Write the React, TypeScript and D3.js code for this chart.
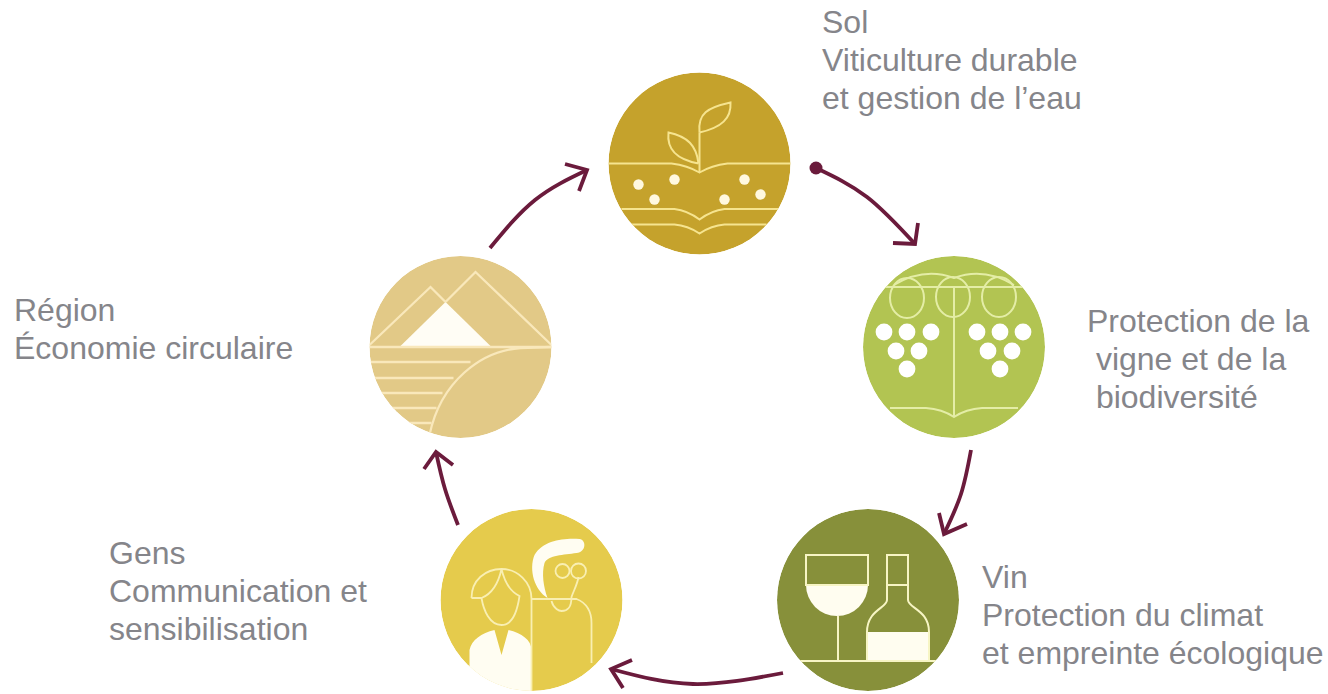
import React, { useEffect, useRef } from 'react';
import * as d3 from 'd3';

const themes = ['Sol', 'Vigne', 'Vin', 'Gens', 'Region'];
const fills = ['#c5a22c', '#b2c452', '#87903a', '#e5cb4c', '#e2c987'];
const strokes = ['#f6e48f', '#e4eda6', '#f7f5c4', '#f9efb2', '#f9e8bb'];
const solids = ['#fff8df', '#ffffff', '#fffdf0', '#fffdf2', '#fffdf5'];

const labelLines = [
	['Sol', 'Viticulture durable', 'et gestion de l’eau'],
	['Protection de la', ' vigne et de la', ' biodiversité'],
	['Vin', 'Protection du climat', 'et empreinte écologique'],
	['Gens', 'Communication et', 'sensibilisation'],
	['Région', 'Économie circulaire'],
];

// layout, in page pixels
const centers = [[699.5, 163.5], [954, 347], [868, 600], [531.5, 600], [460.5, 347]];
const labelPos = [[822, 33], [1087, 332], [982, 588], [109, 564], [14, 321]];
const R = 91;
const LINE_H = 38;

const arrows = [
	{ pts: [[816, 168], [867, 197], [915, 244]], arms: [[918, 223], [893, 243]] },
	{ pts: [[971, 450], [961, 494], [944, 534]], arms: [[939, 513], [967, 524]] },
	{ pts: [[783, 673], [693, 684], [611, 669]], arms: [[632, 660], [623, 688]] },
	{ pts: [[458, 525], [445, 489], [436, 452]], arms: [[424, 469], [453, 465]] },
	{ pts: [[490, 248], [535, 200], [587, 170]], arms: [[565, 164], [579, 191]] },
];

const drawSol = (g, line, solid) => {
	const lines = [
		'M-91,0 L-28,0 Q-12,2 0,9 Q12,2 28,0 L91,0',
		'M-78,45.5 L-25,45.5 Q-12,47 0,56 Q12,47 25,45.5 L79,45.5',
		'M-68,61 L-25,61 Q-12,62 0,70 Q12,62 25,61 L67,61',
		'M0,9 L0,-31',
		'M0,-31 C-2,-50 8,-56 31,-61 C32,-45 22,-36 0,-31',
		'M-1,0 C-3,-18 -12,-27 -31,-31 C-33,-13 -22,-4 -1,0',
	];
	lines.forEach(d => g.append('path').attr('d', d).attr('fill', 'none').attr('stroke', line).attr('stroke-width', 2));
	[[-61, 21], [-45, 36], [-25, 16], [25, 36], [45, 16], [61, 31]].forEach(([x, y]) =>
		g.append('circle').attr('cx', x).attr('cy', y).attr('r', 5.2).attr('fill', solid),
	);
};

const drawVigne = (g, line, solid) => {
	const lines = [
		'M-69,-60 L69,-60',
		'M0,-60 L0,70',
		'M-64,61 L-28,61 Q-12,62 0,70 Q12,62 28,61 L64,61',
		'M-60,-62 Q-30,-80 0,-69 Q30,-80 60,-62',
	];
	lines.forEach(d => g.append('path').attr('d', d).attr('fill', 'none').attr('stroke', line).attr('stroke-width', 2));
	[[-47, -49], [-1, -50], [45, -50]].forEach(([x, y]) =>
		g.append('ellipse').attr('cx', x).attr('cy', y).attr('rx', 17).attr('ry', 20).attr('fill', 'none').attr('stroke', line).attr('stroke-width', 2),
	);
	[[-70, -15], [-47, -15], [-23, -15], [-58, 4], [-35, 4], [-47, 22], [23, -15], [46, -15], [69, -15], [34, 4], [58, 4], [46, 22]].forEach(([x, y]) =>
		g.append('circle').attr('cx', x).attr('cy', y).attr('r', 8.4).attr('fill', solid),
	);
};

const drawVin = (g, line, solid) => {
	g.append('path').attr('d', 'M-62,-15 A31,31 0 0 0 0,-15 Z').attr('fill', solid);
	g.append('rect').attr('x', -1).attr('y', 32).attr('width', 62).attr('height', 29).attr('fill', solid);
	const lines = [
		'M-68,61 L69,61',
		'M-62,-15 L-62,-45 L0,-45 L0,-15 Z',
		'M-30,16 L-30,61',
		'M19,-15 L40,-15',
		'M19,-45 L40,-45 L40,0 C40,8 61,10 61,32 L61,61 L-1,61 L-1,32 C-1,10 19,8 19,0 Z',
	];
	lines.forEach(d => g.append('path').attr('d', d).attr('fill', 'none').attr('stroke', line).attr('stroke-width', 2));
};

const drawGens = (g, line, solid) => {
	g.append('path')
		.attr('d', 'M48,-61 C32,-62 12,-60 3,-45 C-3,-30 3,-10 16,-2 C12,-13 10,-27 13,-37 C17,-45 32,-45 45,-47 C55,-48 55,-60 48,-61 Z')
		.attr('fill', solid);
	g.append('path')
		.attr('d', 'M-37,30 L-30,55 L-23,30 C-10,33 0,40 0,50 L0,95 L-62,95 L-62,50 C-60,40 -50,33 -37,30 Z')
		.attr('fill', solid);
	const lines = [
		'M0,-1 L0,91',
		'M-60,-2 C-60,-20 -46,-31 -30,-31 C-14,-31 0,-18 0,-1',
		'M-60,-2 L-50,-2',
		'M-30,-31 Q-35,-8 -50,-2 C-48,10 -42,25 -30,25 C-18,25 -14,10 -12,-4 Q-25,-10 -30,-31',
		'M0,-1 L45,-1 C55,3 60,12 60,23 L60,63',
		'M20,1 C22,9 28,11 30,11 C36,11 40,8 40,-3 C42,-9 46,-16 47,-23',
	];
	lines.forEach(d => g.append('path').attr('d', d).attr('fill', 'none').attr('stroke', line).attr('stroke-width', 1.8));
	[[31, -29, 7], [47, -29, 7.5]].forEach(([x, y, r]) =>
		g.append('circle').attr('cx', x).attr('cy', y).attr('r', r).attr('fill', 'none').attr('stroke', line).attr('stroke-width', 1.8),
	);
};

const drawRegion = (g, line, solid) => {
	g.append('path').attr('d', 'M-60,-1 L-15,-45 L30,-1 Z').attr('fill', solid);
	const lines = [
		'M-91,0 L91,0',
		'M-91,-2 L-30,-60 L-15,-45',
		'M-15,-45 L15,-75 L91,-2',
		'M91,0 L60,1 C20,4 -20,35 -31,88',
		'M-91,15 L10,15',
		'M-91,31 L-7,31',
		'M-91,46 L-18,46',
		'M-91,61 L-24,61',
		'M-91,76 L-29,76',
	];
	lines.forEach(d => g.append('path').attr('d', d).attr('fill', 'none').attr('stroke', line).attr('stroke-width', 2.3));
};

const icons = [drawSol, drawVigne, drawVin, drawGens, drawRegion];

const App = () => {
	const svgRef = useRef(null);

	useEffect(() => {
		const svg = d3.select(svgRef.current);
		svg.selectAll('*').remove();

		const defs = svg.append('defs');
		defs.append('clipPath').attr('id', 'disc').append('circle').attr('r', R);

		const groups = svg
			.selectAll('g.theme')
			.data(themes)
			.join('g')
			.attr('class', 'theme')
			.attr('transform', (d, i) => `translate(${centers[i][0]},${centers[i][1]})`)
			.attr('clip-path', 'url(#disc)');

		groups.append('circle').attr('r', R).attr('fill', (d, i) => fills[i]);
		groups.each(function (d, i) {
			icons[i](d3.select(this), strokes[i], solids[i]);
		});

		const curve = d3.line().curve(d3.curveNatural);
		const maroon = '#6b1b3c';
		arrows.forEach(a => {
			const tip = a.pts[a.pts.length - 1];
			svg.append('path').attr('d', curve(a.pts)).attr('fill', 'none').attr('stroke', maroon).attr('stroke-width', 3.8);
			svg.append('path')
				.attr('d', d3.line()([a.arms[0], tip, a.arms[1]]))
				.attr('fill', 'none')
				.attr('stroke', maroon)
				.attr('stroke-width', 3.8);
		});
		svg.append('circle').attr('cx', arrows[0].pts[0][0]).attr('cy', arrows[0].pts[0][1]).attr('r', 6.5).attr('fill', maroon);

		labelLines.forEach((lines, i) => {
			const text = svg
				.append('text')
				.attr('font-family', '"Liberation Sans", Arial, sans-serif')
				.attr('font-size', 32)
				.attr('fill', '#85858a')
				.style('white-space', 'pre');
			lines.forEach((l, j) => {
				text.append('tspan').attr('x', labelPos[i][0]).attr('y', labelPos[i][1] + j * LINE_H).text(l);
			});
		});
	}, []);

	return <svg ref={svgRef} width={1328} height={694} style={{ position: 'absolute', left: 0, top: 0, background: '#fff' }}></svg>;
};

export default App;
